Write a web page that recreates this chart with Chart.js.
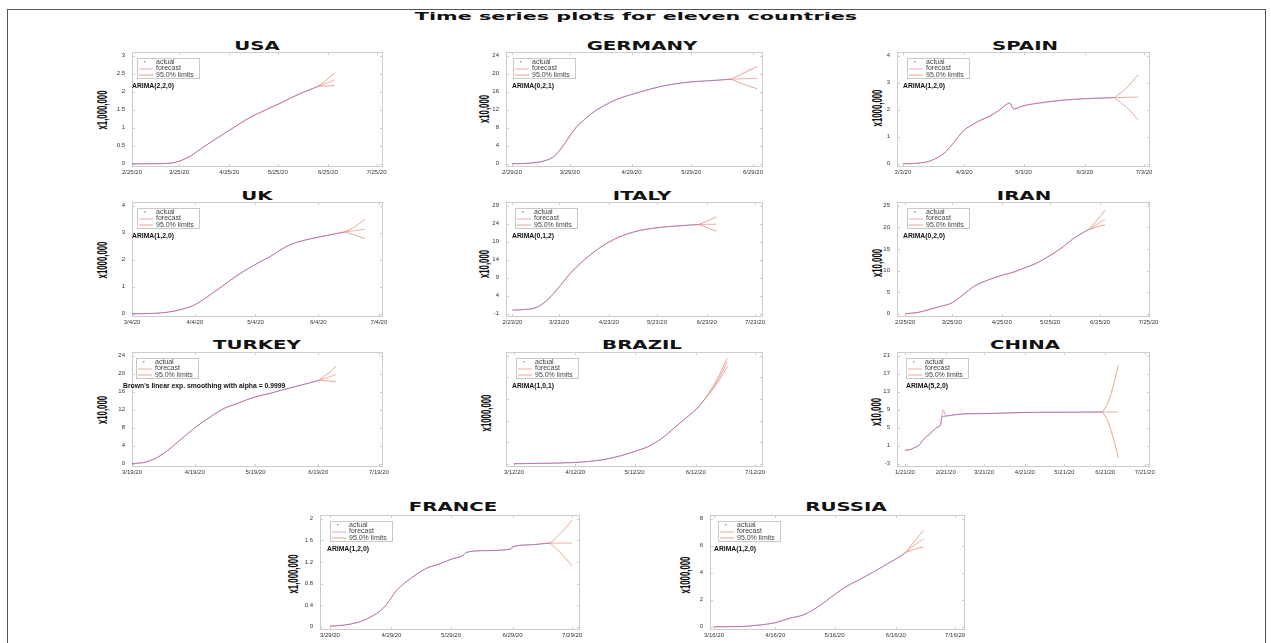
<!DOCTYPE html>
<html>
<head>
<meta charset="utf-8">
<title>Time series plots for eleven countries</title>
<script src="https://cdn.jsdelivr.net/npm/chart.js@4.4.1/dist/chart.umd.min.js"></script>
<style>
  html, body { margin: 0; background: #fff; }
  #page { position: relative; width: 1271px; height: 643px; overflow: hidden; background: #fff; }
  #border { position: absolute; left: 7px; top: 9px; width: 1257px; height: 700px; border: 1px solid #555; }
  .lbl { position: absolute; white-space: nowrap; line-height: 1; color: #111; font-weight: bold; }
  .main { font: bold 11px 'DejaVu Sans', sans-serif; }
  .ptitle { font: bold 13px 'DejaVu Sans', sans-serif; }
  .unit { font: bold 15px 'Liberation Sans', Arial, sans-serif; }
  canvas { position: absolute; }
</style>
</head>
<body>
<div id="page"><div id="border"></div></div>
<script>
const legendLabels = ['actual', 'forecast', '95.0% limits'];

// USA
const usaDates = ['2/25/20','3/5/20','3/15/20','3/20/20','3/25/20','4/1/20','4/8/20','4/15/20','4/22/20','4/29/20','5/6/20','5/13/20','5/20/20','5/27/20','6/3/20','6/10/20','6/19/20'];
const usaActual = [0, 0.0002, 0.003, 0.019, 0.066, 0.21, 0.43, 0.64, 0.84, 1.04, 1.24, 1.40, 1.55, 1.69, 1.85, 1.99, 2.15];
const usaFcDates = ['6/19/20','6/24/20','6/29/20'];
const usaForecast = [2.15, 2.24, 2.33];
const usaUpper = [2.15, 2.33, 2.52];
const usaLower = [2.15, 2.16, 2.17];
const usaXTicks = ['2/25/20','3/25/20','4/25/20','5/25/20','6/25/20','7/25/20'];
const usaYTicks = [0, 0.5, 1, 1.5, 2, 2.5, 3];
const usaRange = ['2/25/20', '7/29/20'];

// GERMANY
const germanyDates = ['2/29/20','3/7/20','3/14/20','3/18/20','3/21/20','3/25/20','3/29/20','4/1/20','4/5/20','4/9/20','4/12/20','4/16/20','4/19/20','4/24/20','4/29/20','5/6/20','5/13/20','5/20/20','5/29/20','6/5/20','6/12/20','6/18/20'];
const germanyActual = [0.01, 0.08, 0.4, 0.9, 1.6, 3.6, 6.2, 8.0, 9.7, 11.2, 12.1, 13.1, 13.8, 14.7, 15.4, 16.3, 17.1, 17.7, 18.2, 18.4, 18.6, 18.8];
const germanyFcDates = ['6/18/20','6/24/20','7/1/20'];
const germanyForecast = [18.8, 18.9, 19.0];
const germanyUpper = [18.8, 20.1, 21.6];
const germanyLower = [18.8, 17.7, 16.7];
const germanyXTicks = ['2/29/20','3/29/20','4/29/20','5/29/20','6/29/20'];
const germanyYTicks = [0, 4, 8, 12, 16, 20, 24];
const germanyRange = ['2/26/20', '7/4/20'];

// SPAIN
const spainDates = ['3/3/20','3/10/20','3/17/20','3/21/20','3/24/20','3/28/20','3/31/20','4/3/20','4/7/20','4/10/20','4/14/20','4/17/20','4/21/20','4/24/20','4/26/20','4/28/20','5/3/20','5/10/20','5/17/20','5/24/20','6/3/20','6/10/20','6/18/20'];
const spainActual = [0.001, 0.017, 0.11, 0.25, 0.40, 0.72, 1.0, 1.25, 1.44, 1.57, 1.70, 1.81, 2.0, 2.18, 2.25, 2.03, 2.15, 2.24, 2.31, 2.36, 2.41, 2.43, 2.45];
const spainFcDates = ['6/18/20','6/24/20','6/30/20'];
const spainForecast = [2.45, 2.46, 2.47];
const spainUpper = [2.45, 2.8, 3.3];
const spainLower = [2.45, 2.1, 1.63];
const spainXTicks = ['3/3/20','4/3/20','5/3/20','6/3/20','7/3/20'];
const spainYTicks = [0, 1, 2, 3, 4];
const spainRange = ['2/29/20', '7/6/20'];

// UK
const ukDates = ['3/4/20','3/11/20','3/18/20','3/25/20','4/1/20','4/4/20','4/11/20','4/17/20','4/25/20','5/4/20','5/11/20','5/19/20','5/25/20','6/3/20','6/11/20','6/17/20'];
const ukActual = [0, 0.004, 0.03, 0.1, 0.24, 0.33, 0.67, 0.99, 1.42, 1.83, 2.11, 2.48, 2.66, 2.82, 2.94, 3.03];
const ukFcDates = ['6/17/20','6/22/20','6/27/20'];
const ukForecast = [3.03, 3.08, 3.13];
const ukUpper = [3.03, 3.22, 3.5];
const ukLower = [3.03, 2.92, 2.78];
const ukXTicks = ['3/4/20','4/4/20','5/4/20','6/4/20','7/4/20'];
const ukYTicks = [0, 1, 2, 3, 4];
const ukRange = ['3/4/20', '7/6/20'];

// ITALY
const italyDates = ['2/23/20','3/1/20','3/8/20','3/15/20','3/23/20','3/30/20','4/6/20','4/13/20','4/23/20','5/1/20','5/10/20','5/23/20','6/5/20','6/18/20'];
const italyActual = [0.02, 0.17, 0.6, 2.5, 6.4, 10.2, 13.3, 15.9, 18.9, 20.6, 21.9, 22.9, 23.4, 23.8];
const italyFcDates = ['6/18/20','6/24/20','6/29/20'];
const italyForecast = [23.8, 23.85, 23.9];
const italyUpper = [23.8, 24.9, 25.9];
const italyLower = [23.8, 22.8, 21.9];
const italyXTicks = ['2/23/20','3/23/20','4/23/20','5/23/20','6/23/20','7/23/20'];
const italyYTicks = [-1, 4, 9, 14, 19, 24, 29];
const italyRange = ['2/19/20', '7/28/20'];

// IRAN
const iranDates = ['2/25/20','3/4/20','3/11/20','3/18/20','3/25/20','4/1/20','4/8/20','4/15/20','4/25/20','5/2/20','5/9/20','5/16/20','5/25/20','6/1/20','6/8/20','6/15/20','6/18/20'];
const iranActual = [0.01, 0.3, 1.0, 1.7, 2.5, 4.4, 6.4, 7.6, 8.9, 9.6, 10.6, 11.6, 13.5, 15.2, 17.3, 18.9, 19.5];
const iranFcDates = ['6/18/20','6/23/20','6/28/20'];
const iranForecast = [19.5, 20.7, 21.9];
const iranUpper = [19.5, 21.6, 24.0];
const iranLower = [19.5, 20.1, 20.6];
const iranXTicks = ['2/25/20','3/25/20','4/25/20','5/25/20','6/25/20','7/25/20'];
const iranYTicks = [0, 5, 10, 15, 20, 25];
const iranRange = ['2/20/20', '7/26/20'];

// TURKEY
const turkeyDates = ['3/19/20','3/26/20','4/2/20','4/9/20','4/19/20','4/26/20','5/3/20','5/10/20','5/19/20','5/26/20','6/2/20','6/9/20','6/19/20'];
const turkeyActual = [0.02, 0.4, 1.8, 4.2, 8.0, 10.2, 12.2, 13.4, 14.9, 15.6, 16.5, 17.3, 18.5];
const turkeyFcDates = ['6/19/20','6/24/20','6/28/20'];
const turkeyForecast = [18.5, 19.2, 19.9];
const turkeyUpper = [18.5, 20.1, 21.8];
const turkeyLower = [18.5, 18.4, 18.3];
const turkeyXTicks = ['3/19/20','4/19/20','5/19/20','6/19/20','7/19/20'];
const turkeyYTicks = [0, 4, 8, 12, 16, 20, 24];
const turkeyRange = ['3/19/20', '7/21/20'];

// BRAZIL
const brazilDates = ['3/12/20','3/26/20','4/12/20','4/26/20','5/5/20','5/12/20','5/19/20','5/26/20','6/2/20','6/9/20','6/12/20','6/17/20'];
const brazilActual = [0, 0.02, 0.06, 0.19, 0.37, 0.57, 0.8, 1.19, 1.73, 2.27, 2.5, 3.04];
const brazilFcDates = ['6/17/20','6/23/20','6/28/20'];
const brazilForecast = [3.04, 3.85, 4.72];
const brazilUpper = [3.04, 3.95, 4.9];
const brazilLower = [3.04, 3.75, 4.5];
const brazilXTicks = ['3/12/20','4/12/20','5/12/20','6/12/20','7/12/20'];
const brazilYTicks = [0, 1, 2, 3, 4, 5];
const brazilRange = ['3/8/20', '7/16/20'];

// CHINA
const chinaDates = ['1/21/20','1/25/20','1/28/20','2/1/20','2/4/20','2/8/20','2/12/20','2/15/20','2/17/20','2/18/20','2/19/20','2/21/20','2/28/20','3/7/20','3/21/20','4/21/20','5/21/20','6/19/20'];
const chinaActual = [0.04, 0.15, 0.55, 1.2, 2.4, 3.4, 4.5, 5.2, 5.6, 7.4, 7.5, 7.6, 7.9, 8.1, 8.15, 8.4, 8.45, 8.5];
const chinaFitDates = ['2/19/20'];
const chinaFitValues = [9.0];
const chinaFcDates = ['6/19/20','6/23/20','6/27/20','7/1/20'];
const chinaForecast = [8.5, 8.5, 8.5, 8.5];
const chinaUpper = [8.5, 10.5, 14.2, 19.0];
const chinaLower = [8.5, 6.5, 2.8, -1.7];
const chinaXTicks = ['1/21/20','2/21/20','3/21/20','4/21/20','5/21/20','6/21/20','7/21/20'];
const chinaYTicks = [-3, 1, 5, 9, 13, 17, 21];
const chinaRange = ['1/15/20', '7/25/20'];

// FRANCE
const franceDates = ['3/29/20','4/5/20','4/12/20','4/18/20','4/25/20','4/29/20','5/1/20','5/5/20','5/12/20','5/17/20','5/23/20','5/29/20','6/4/20','6/6/20','6/15/20','6/28/20','6/29/20','7/9/20','7/18/20'];
const franceActual = [0.01, 0.03, 0.08, 0.17, 0.35, 0.54, 0.65, 0.79, 0.98, 1.09, 1.16, 1.25, 1.32, 1.38, 1.41, 1.44, 1.48, 1.52, 1.55];
const franceFcDates = ['7/18/20','7/24/20','7/29/20'];
const franceForecast = [1.55, 1.55, 1.55];
const franceUpper = [1.55, 1.76, 1.97];
const franceLower = [1.55, 1.34, 1.13];
const franceXTicks = ['3/29/20','4/29/20','5/29/20','6/29/20','7/29/20'];
const franceYTicks = [0, 0.4, 0.8, 1.2, 1.6, 2];
const franceRange = ['3/24/20', '8/2/20'];

// RUSSIA
const russiaDates = ['3/16/20','3/30/20','4/6/20','4/16/20','4/23/20','4/30/20','5/7/20','5/14/20','5/21/20','5/28/20','6/4/20','6/11/20','6/18/20','6/21/20'];
const russiaActual = [0, 0.02, 0.1, 0.3, 0.62, 0.87, 1.42, 2.16, 2.9, 3.45, 4.0, 4.6, 5.2, 5.5];
const russiaFcDates = ['6/21/20','6/25/20','6/30/20'];
const russiaForecast = [5.5, 6.0, 6.5];
const russiaUpper = [5.5, 6.25, 7.13];
const russiaLower = [5.5, 5.72, 5.9];
const russiaXTicks = ['3/16/20','4/16/20','5/16/20','6/16/20','7/16/20'];
const russiaYTicks = [0, 2, 4, 6, 8];
const russiaRange = ['3/14/20', '7/21/20'];

const actualColor = 'rgba(80,80,220,0.6)';
const forecastColor = 'rgba(230,90,90,0.5)';
const limitsColor = 'rgba(225,150,125,0.85)';
const tickFont = { family: "'Liberation Sans', Arial, sans-serif", size: 6 };

// box = plot area [left, top, width, height]
const panels = [
  { name: 'USA', unit: 'x1,000,000', model: 'ARIMA(2,2,0)', dates: usaDates, actual: usaActual, fcDates: usaFcDates, forecast: usaForecast, upper: usaUpper, lower: usaLower, xTicks: usaXTicks, yTicks: usaYTicks, range: usaRange,
    box: [132, 52, 251, 115], titleAt: [257, 45], unitAt: [101, 110], legendDx: 5, modelDx: 0 },
  { name: 'GERMANY', unit: 'x10,000', model: 'ARIMA(0,2,1)', dates: germanyDates, actual: germanyActual, fcDates: germanyFcDates, forecast: germanyForecast, upper: germanyUpper, lower: germanyLower, xTicks: germanyXTicks, yTicks: germanyYTicks, range: germanyRange,
    box: [506, 52, 257, 115], titleAt: [642, 45], unitAt: [483, 109], legendDx: 7, modelDx: 6 },
  { name: 'SPAIN', unit: 'x1000,000', model: 'ARIMA(1,2,0)', dates: spainDates, actual: spainActual, fcDates: spainFcDates, forecast: spainForecast, upper: spainUpper, lower: spainLower, xTicks: spainXTicks, yTicks: spainYTicks, range: spainRange,
    box: [897, 52, 253, 115], titleAt: [1025, 45], unitAt: [876, 108], legendDx: 10, modelDx: 6 },
  { name: 'UK', unit: 'x1000,000', model: 'ARIMA(1,2,0)', dates: ukDates, actual: ukActual, fcDates: ukFcDates, forecast: ukForecast, upper: ukUpper, lower: ukLower, xTicks: ukXTicks, yTicks: ukYTicks, range: ukRange,
    box: [132, 202, 251, 115], titleAt: [257, 195], unitAt: [101, 260], legendDx: 5, modelDx: 0 },
  { name: 'ITALY', unit: 'x10,000', model: 'ARIMA(0,1,2)', dates: italyDates, actual: italyActual, fcDates: italyFcDates, forecast: italyForecast, upper: italyUpper, lower: italyLower, xTicks: italyXTicks, yTicks: italyYTicks, range: italyRange,
    box: [506, 202, 257, 115], titleAt: [642, 195], unitAt: [483, 264], legendDx: 9, modelDx: 6 },
  { name: 'IRAN', unit: 'x10,000', model: 'ARIMA(0,2,0)', dates: iranDates, actual: iranActual, fcDates: iranFcDates, forecast: iranForecast, upper: iranUpper, lower: iranLower, xTicks: iranXTicks, yTicks: iranYTicks, range: iranRange,
    box: [897, 202, 253, 115], titleAt: [1024, 195], unitAt: [876, 263], legendDx: 10, modelDx: 6 },
  { name: 'TURKEY', unit: 'x10,000', model: "Brown's linear exp. smoothing with alpha = 0.9999", dates: turkeyDates, actual: turkeyActual, fcDates: turkeyFcDates, forecast: turkeyForecast, upper: turkeyUpper, lower: turkeyLower, xTicks: turkeyXTicks, yTicks: turkeyYTicks, range: turkeyRange,
    box: [132, 352, 251, 115], titleAt: [257, 344], unitAt: [101, 410], legendDx: 4, modelDx: -9 },
  { name: 'BRAZIL', unit: 'x1000,000', model: 'ARIMA(1,0,1)', dates: brazilDates, actual: brazilActual, fcDates: brazilFcDates, forecast: brazilForecast, upper: brazilUpper, lower: brazilLower, xTicks: brazilXTicks, yTicks: brazilYTicks, range: brazilRange, hideY: true,
    box: [506, 352, 257, 115], titleAt: [642, 344], unitAt: [485, 413], legendDx: 10, modelDx: 6 },
  { name: 'CHINA', unit: 'x10,000', model: 'ARIMA(5,2,0)', dates: chinaDates, actual: chinaActual, fitDates: chinaFitDates, fitValues: chinaFitValues, fcDates: chinaFcDates, forecast: chinaForecast, upper: chinaUpper, lower: chinaLower, xTicks: chinaXTicks, yTicks: chinaYTicks, range: chinaRange,
    box: [897, 352, 253, 115], titleAt: [1025, 344], unitAt: [875, 412], legendDx: 9, modelDx: 9 },
  { name: 'FRANCE', unit: 'x1,000,000', model: 'ARIMA(1,2,0)', dates: franceDates, actual: franceActual, fcDates: franceFcDates, forecast: franceForecast, upper: franceUpper, lower: franceLower, xTicks: franceXTicks, yTicks: franceYTicks, range: franceRange,
    box: [320, 515, 260, 115], titleAt: [453, 506], unitAt: [292, 574], legendDx: 10, modelDx: 7 },
  { name: 'RUSSIA', unit: 'x1000,000', model: 'ARIMA(1,2,0)', dates: russiaDates, actual: russiaActual, fcDates: russiaFcDates, forecast: russiaForecast, upper: russiaUpper, lower: russiaLower, xTicks: russiaXTicks, yTicks: russiaYTicks, range: russiaRange,
    box: [710, 515, 255, 115], titleAt: [846, 506], unitAt: [684, 575], legendDx: 8, modelDx: 4 }
];

function toDay(s) {
  const [m, d, y] = s.split('/').map(Number);
  return Date.UTC(2000 + y, m - 1, d) / 864e5;
}
function points(dates, values) {
  return dates.map((d, i) => ({ x: toDay(d), y: values[i] }));
}

const page = document.getElementById('page');
function addText(cls, text, cx, cy, extra) {
  const el = document.createElement('div');
  el.className = 'lbl ' + cls;
  el.textContent = text;
  el.style.left = cx + 'px';
  el.style.top = cy + 'px';
  el.style.transform = 'translate(-50%, -50%) ' + extra;
  page.appendChild(el);
  return el;
}

const mainTitle = addText('main', 'Time series plots for eleven countries', 636, 16, '');
mainTitle.style.transform = 'translate(-50%, -50%) scaleX(' + (443 / mainTitle.offsetWidth).toFixed(3) + ')';

// frame, inner tick marks, legend box and model note
const decor = {
  id: 'decor',
  beforeDatasetsDraw(chart) {
    const { ctx, chartArea: a, scales } = chart;
    ctx.save();
    ctx.strokeStyle = '#cdcdcd';
    ctx.lineWidth = 1;
    ctx.strokeRect(a.left + 0.5, a.top + 0.5, a.width - 1, a.height - 1);
    ctx.beginPath();
    scales.x.ticks.forEach(t => {
      const x = Math.round(scales.x.getPixelForValue(t.value)) + 0.5;
      ctx.moveTo(x, a.bottom); ctx.lineTo(x, a.bottom - 3);
      ctx.moveTo(x, a.top); ctx.lineTo(x, a.top + 3);
    });
    scales.y.ticks.forEach(t => {
      const y = Math.round(scales.y.getPixelForValue(t.value)) + 0.5;
      ctx.moveTo(a.left, y); ctx.lineTo(a.left + 3, y);
      ctx.moveTo(a.right, y); ctx.lineTo(a.right - 3, y);
    });
    ctx.stroke();
    ctx.restore();
  },
  afterDatasetsDraw(chart, args, opts) {
    const { ctx, chartArea: a } = chart;
    const bx = Math.round(a.left + opts.legendDx), by = Math.round(a.top + 6);
    ctx.save();
    ctx.strokeStyle = '#c8c8c8';
    ctx.lineWidth = 1;
    ctx.strokeRect(bx + 0.5, by + 0.5, 62, 20);
    ctx.font = "7px 'Liberation Sans', Arial, sans-serif";
    ctx.textBaseline = 'middle';
    ctx.fillStyle = '#444';
    legendLabels.forEach((txt, i) => ctx.fillText(txt, bx + 19, by + 4 + i * 6.5));
    ctx.fillStyle = actualColor;
    ctx.fillRect(bx + 7, by + 3, 1.5, 1.5);
    ctx.lineWidth = 1;
    ctx.strokeStyle = forecastColor;
    ctx.beginPath(); ctx.moveTo(bx + 2, by + 11); ctx.lineTo(bx + 16, by + 11); ctx.stroke();
    ctx.strokeStyle = limitsColor;
    ctx.beginPath(); ctx.moveTo(bx + 2, by + 17); ctx.lineTo(bx + 16, by + 17); ctx.stroke();
    ctx.font = "bold 6.8px 'Liberation Sans', Arial, sans-serif";
    ctx.fillStyle = '#111';
    ctx.fillText(opts.model, a.left + opts.modelDx, a.top + 34);
    ctx.restore();
  }
};

panels.forEach(p => {
  const [left, top, w, h] = p.box;
  addText('ptitle', p.name, p.titleAt[0], p.titleAt[1], 'scaleX(1.52)');
  addText('unit', p.unit, p.unitAt[0], p.unitAt[1], 'rotate(-90deg) scaleX(0.52)');

  const cv = document.createElement('canvas');
  cv.width = w + 36;
  cv.height = h + 18;
  cv.style.left = (left - 24) + 'px';
  cv.style.top = (top - 4) + 'px';
  page.appendChild(cv);

  const fitted = points(p.dates, p.actual);
  (p.fitDates || []).forEach((d, i) => {
    const hit = fitted.find(q => q.x === toDay(d));
    if (hit) hit.y = p.fitValues[i];
  });
  const lastX = fitted[fitted.length - 1].x;
  const forecastLine = fitted.concat(points(p.fcDates, p.forecast).filter(q => q.x > lastX));

  const y0 = p.yTicks[0], y1 = p.yTicks[p.yTicks.length - 1];
  const span = y1 - y0;
  const line = (data, color) => ({ data, borderColor: color, borderWidth: 1, pointRadius: 0, fill: false, cubicInterpolationMode: 'monotone' });

  new Chart(cv, {
    type: 'line',
    data: {
      datasets: [
        line(points(p.fcDates, p.upper), limitsColor),
        line(points(p.fcDates, p.lower), limitsColor),
        line(forecastLine, forecastColor),
        line(points(p.dates, p.actual), actualColor)
      ]
    },
    options: {
      responsive: false,
      animation: false,
      devicePixelRatio: 1,
      layout: { padding: { top: 4, right: 12, bottom: 0, left: 0 } },
      plugins: {
        legend: { display: false },
        tooltip: { enabled: false },
        decor: { legendDx: p.legendDx, modelDx: p.modelDx, model: p.model }
      },
      scales: {
        x: {
          type: 'linear',
          bounds: 'data',
          min: toDay(p.range[0]),
          max: toDay(p.range[1]),
          grid: { display: false, drawTicks: false },
          border: { display: false },
          afterBuildTicks: s => { s.ticks = p.xTicks.map(l => ({ value: toDay(l) })); },
          afterFit: s => { s.height = 14; s.paddingLeft = 0; s.paddingRight = 0; },
          ticks: { autoSkip: false, maxRotation: 0, minRotation: 0, padding: 2, font: tickFont, color: '#333',
                   callback: (v, i) => p.xTicks[i] }
        },
        y: {
          type: 'linear',
          bounds: 'data',
          min: y0 - span * 0.03,
          max: y1 + span * 0.035,
          grid: { display: false, drawTicks: false },
          border: { display: false },
          afterBuildTicks: s => { s.ticks = p.yTicks.map(v => ({ value: v })); },
          afterFit: s => { s.width = 24; s.paddingTop = 0; s.paddingBottom = 0; },
          ticks: { padding: 7, font: tickFont, color: '#333',
                   callback: (v, i) => p.hideY ? '' : String(p.yTicks[i]) }
        }
      }
    },
    plugins: [decor]
  });
});
</script>
</body>
</html>
